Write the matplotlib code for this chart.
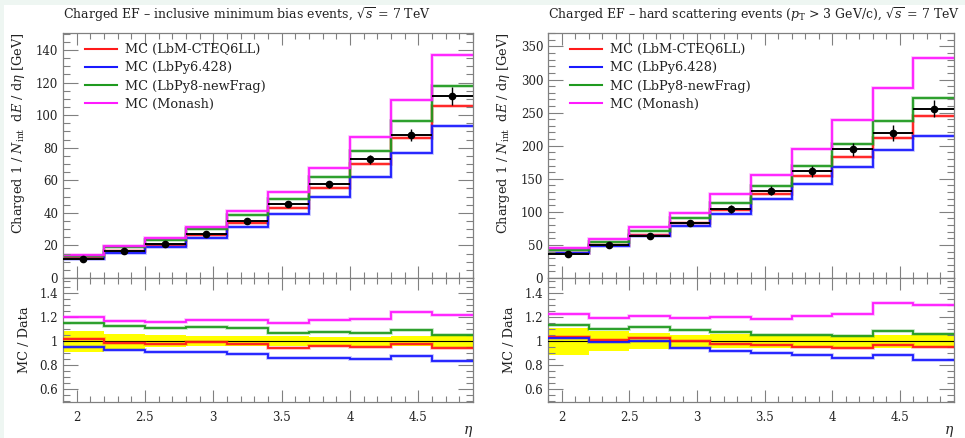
import numpy as np
import matplotlib
matplotlib.use("Agg")
import matplotlib.pyplot as plt
from matplotlib.ticker import MultipleLocator, FuncFormatter
from matplotlib.patches import Rectangle

plt.rcParams['font.family'] = ['DejaVu Serif']
plt.rcParams['mathtext.fontset'] = 'dejavuserif'

# ---------------- data ----------------
eta_edges = [1.9, 2.2, 2.5, 2.8, 3.1, 3.4, 3.7, 4.0, 4.3, 4.6, 4.9]

mb_data = [11.9, 16.6, 21.0, 26.9, 34.8, 45.6, 57.6, 72.9, 87.8, 111.8]
mb_relerr = [0.087, 0.062, 0.050, 0.042, 0.040, 0.040, 0.037, 0.037, 0.040, 0.050]
mb_lbm = [12.14, 16.43, 20.54, 26.63, 33.93, 43.23, 55.24, 69.69, 85.87, 105.32]
mb_py6 = [11.38, 15.37, 19.15, 24.53, 31.18, 39.35, 49.42, 61.89, 76.74, 93.46]
mb_py8 = [13.72, 18.74, 23.35, 30.07, 38.52, 48.70, 62.04, 77.86, 96.23, 117.95]
mb_monash = [14.28, 19.47, 24.40, 31.61, 40.89, 52.58, 67.68, 86.68, 109.49, 136.62]

hs_data = [36.8, 49.3, 64.0, 83.0, 105.0, 132.0, 161.0, 194.5, 218.5, 256.0]
hs_relerr = [0.112, 0.082, 0.066, 0.056, 0.058, 0.055, 0.052, 0.052, 0.055, 0.050]
hs_lbm = [38.20, 49.84, 65.73, 83.25, 102.69, 127.64, 153.43, 183.22, 211.95, 244.74]
hs_py6 = [37.79, 48.81, 64.00, 78.19, 96.08, 119.33, 142.00, 167.27, 192.72, 215.30]
hs_py8 = [41.84, 54.28, 71.55, 90.72, 113.09, 139.26, 169.37, 203.06, 237.07, 271.36]
hs_monash = [45.08, 59.01, 77.31, 98.94, 126.32, 156.29, 195.45, 239.24, 287.33, 333.06]

mc_labels = ["MC (LbM-CTEQ6LL)", "MC (LbPy6.428)", "MC (LbPy8-newFrag)", "MC (Monash)"]
mc_colors = ["#ff1a1a", "#1a1aff", "#1f9a1f", "#ff1aff"]

titles = [r"Charged EF – inclusive minimum bias events, $\sqrt{s}$ = 7 TeV",
          r"Charged EF – hard scattering events ($p_\mathrm{T}$ > 3 GeV/c), $\sqrt{s}$ = 7 TeV"]
ylabel_top = r"Charged 1 / $N_\mathrm{int}$  d$E$ / d$\eta$ [GeV]"
ylabel_ratio = "MC / Data"
xlabel = r"$\eta$"

# ---------------- figure ----------------
W, H = 965, 438
fig = plt.figure(figsize=(W / 100, H / 100), dpi=100, facecolor="#eef6f2")
fig.patches.append(Rectangle((4 / W, 0), 1, 1 - 5 / H, transform=fig.transFigure,
                             facecolor="white", edgecolor="none", zorder=-10))

frame_col = "#808080"
text_col = "#222222"


def fx(px):
    return px / W


def fy(py):
    return 1 - py / H


panels = [
    dict(x0=63, x1=473, ymax=150.4, major=20, minor=5,
         data=mb_data, err=mb_relerr, mcs=[mb_lbm, mb_py6, mb_py8, mb_monash], title=titles[0]),
    dict(x0=548, x1=954, ymax=370.3, major=50, minor=10,
         data=hs_data, err=hs_relerr, mcs=[hs_lbm, hs_py6, hs_py8, hs_monash], title=titles[1]),
]

y_top, y_mid, y_bot = 33, 278, 401.7
edges = np.array(eta_edges)
centers = 0.5 * (edges[:-1] + edges[1:])


def style_axis(ax, xmaj, ymaj, ymin):
    for s in ax.spines.values():
        s.set_color(frame_col)
        s.set_linewidth(0.9)
    ax.xaxis.set_major_locator(MultipleLocator(xmaj))
    ax.xaxis.set_minor_locator(MultipleLocator(0.1))
    ax.yaxis.set_major_locator(MultipleLocator(ymaj))
    ax.yaxis.set_minor_locator(MultipleLocator(ymin))
    ax.tick_params(axis='both', which='both', direction='in', top=True, right=True,
                   color=frame_col, labelcolor=text_col, labelsize=8.5, width=0.8)
    ax.tick_params(axis='y', which='major', length=10.5)
    ax.tick_params(axis='y', which='minor', length=5)
    ax.tick_params(axis='x', which='major', length=8.5)
    ax.tick_params(axis='x', which='minor', length=4.3)


def gfmt(v, pos):
    return "%g" % round(v, 6)


for p in panels:
    axt = fig.add_axes([fx(p['x0']), fy(y_mid), fx(p['x1'] - p['x0']), (y_mid - y_top) / H])
    axr = fig.add_axes([fx(p['x0']), fy(y_bot), fx(p['x1'] - p['x0']), (y_bot - y_mid) / H],
                       sharex=axt)
    data = np.array(p['data'])
    err = np.array(p['err']) * data

    # MC histograms
    for vals, col, lab in zip(p['mcs'], mc_colors, mc_labels):
        v = np.array(vals)
        axt.stairs(v, edges, color=col, lw=2.6, alpha=0.3, baseline=None)
        axt.stairs(v, edges, color=col, lw=1.3, label=lab, baseline=None)
    # data
    axt.hlines(data, edges[:-1], edges[1:], color='black', lw=1.4, zorder=5)
    axt.errorbar(centers, data, yerr=err, fmt='o', color='black', ms=4.5, elinewidth=1.0,
                 capsize=0, zorder=6)

    axt.set_xlim(1.9, 4.9)
    axt.set_ylim(0, p['ymax'])
    style_axis(axt, 0.5, p['major'], p['minor'])
    axt.yaxis.set_major_formatter(FuncFormatter(gfmt))
    axt.tick_params(axis='x', labelbottom=False)
    axt.set_ylabel(ylabel_top, fontsize=9.3, color=text_col, labelpad=6, loc='top')

    leg = axt.legend(loc='upper left', bbox_to_anchor=(0.032, 0.995), frameon=False,
                     fontsize=9.3, handlelength=2.5, handletextpad=0.6, labelspacing=0.40,
                     borderaxespad=0.3)
    for t in leg.get_texts():
        t.set_color(text_col)
    for h in leg.legend_handles:
        h.set_linewidth(1.5)

    axt.text(0.0, 1.035, p['title'], transform=axt.transAxes, fontsize=9.0,
             color=text_col, ha='left', va='bottom')

    # ratio panel
    rel = np.array(p['err'])
    axr.stairs(1 + rel, edges, baseline=1 - rel, fill=True, color='#ffff00', lw=0)
    axr.axhline(1.0, color='black', lw=0.8, zorder=3)
    for vals, col in zip(p['mcs'], mc_colors):
        r = np.array(vals) / data
        axr.stairs(r, edges, color=col, lw=2.6, alpha=0.3, baseline=None, zorder=4)
        axr.stairs(r, edges, color=col, lw=1.3, baseline=None, zorder=5)
    axr.set_xlim(1.9, 4.9)
    axr.set_ylim(0.497, 1.527)
    style_axis(axr, 0.5, 0.2, 0.05)
    axr.yaxis.set_major_formatter(FuncFormatter(gfmt))
    axr.xaxis.set_major_formatter(FuncFormatter(gfmt))
    axr.tick_params(axis='x', pad=7)
    axr.set_ylabel(ylabel_ratio, fontsize=9.3, color=text_col, labelpad=6)
    axr.set_xlabel(xlabel, fontsize=10, color=text_col, loc='right', labelpad=0)

fig.savefig("out.png", dpi=100, facecolor=fig.get_facecolor())
